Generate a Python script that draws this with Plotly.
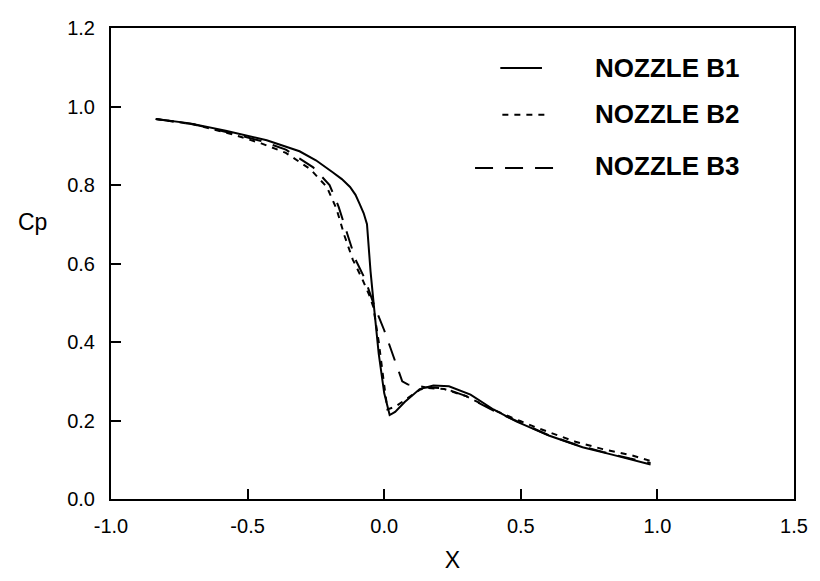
import plotly.graph_objects as go

# Pressure coefficient along the nozzle axis for three nozzle shapes
b1_x = [-0.836, -0.71, -0.58, -0.43, -0.31, -0.25, -0.19, -0.155, -0.125, -0.105, -0.09, -0.075, -0.063,
        -0.05, -0.037, -0.02, 0.0, 0.02, 0.04, 0.075, 0.13, 0.18, 0.237, 0.316, 0.40, 0.485, 0.605,
        0.726, 0.834, 0.93, 0.975]
b1_cp = [0.968, 0.957, 0.938, 0.914, 0.886, 0.863, 0.833, 0.815, 0.795, 0.775, 0.752, 0.728, 0.700,
         0.580, 0.487, 0.370, 0.270, 0.214, 0.222, 0.247, 0.280, 0.289, 0.287, 0.266, 0.228, 0.197, 0.161,
         0.132, 0.113, 0.097, 0.088]

b2_x = [-0.836, -0.70, -0.55, -0.45, -0.36, -0.27, -0.21, -0.175, -0.145, -0.115, -0.08, -0.055, -0.04,
        -0.02, 0.0, 0.012, 0.04, 0.08, 0.13, 0.15, 0.22, 0.30, 0.40, 0.50, 0.557, 0.70, 0.80, 0.907, 0.975]
b2_cp = [0.968, 0.955, 0.928, 0.906, 0.882, 0.840, 0.795, 0.740, 0.670, 0.610, 0.560, 0.520, 0.490,
         0.400, 0.290, 0.228, 0.235, 0.255, 0.278, 0.283, 0.280, 0.262, 0.227, 0.198, 0.182, 0.146, 0.127, 0.111, 0.097]

b3_x = [-0.836, -0.70, -0.55, -0.45, -0.36, -0.26, -0.20, -0.167, -0.135, -0.105, -0.07, -0.05, -0.035,
        0.0, 0.03, 0.066, 0.086, 0.15, 0.22, 0.30, 0.40, 0.50, 0.60, 0.70, 0.80, 0.90, 0.975]
b3_cp = [0.968, 0.955, 0.930, 0.912, 0.890, 0.845, 0.800, 0.745, 0.675, 0.610, 0.560, 0.520, 0.490,
         0.430, 0.370, 0.300, 0.292, 0.285, 0.282, 0.262, 0.225, 0.193, 0.163, 0.139, 0.120, 0.103, 0.092]

series_names = ["NOZZLE B1", "NOZZLE B2", "NOZZLE B3"]
series_x = [b1_x, b2_x, b3_x]
series_y = [b1_cp, b2_cp, b3_cp]
series_dash = ["solid", "6px,6px", "18px,12px"]

x_tick_vals = [-1.0, -0.5, 0.0, 0.5, 1.0, 1.5]
x_tick_text = ["-1.0", "-0.5", "0.0", "0.5", "1.0", "1.5"]
y_tick_vals = [0.0, 0.2, 0.4, 0.6, 0.8, 1.0, 1.2]
y_tick_text = ["0.0", "0.2", "0.4", "0.6", "0.8", "1.0", "1.2"]

FONT = "Liberation Sans, Arial, Helvetica, sans-serif"

fig = go.Figure()
for name, xs, ys, dash in zip(series_names, series_x, series_y, series_dash):
    fig.add_trace(go.Scatter(x=xs, y=ys, mode="lines", name=name,
                             line=dict(color="black", width=2, dash=dash),
                             showlegend=False))

# Hand-placed key: sample line on the left, bold label on the right
key_lines = [(0.570, 0.631, 0.915), (0.573, 0.635, 0.816), (0.533, 0.650, 0.703)]
key_text_y = [0.915, 0.817, 0.707]
for (x0, x1, yk), ty, name, dash in zip(key_lines, key_text_y, series_names, series_dash):
    fig.add_shape(type="line", xref="paper", yref="paper", x0=x0, x1=x1, y0=yk, y1=yk,
                  line=dict(color="black", width=2, dash=dash))
    fig.add_annotation(xref="paper", yref="paper", x=0.705, y=ty, text="<b>%s</b>" % name,
                       showarrow=False, xanchor="left", yanchor="middle",
                       font=dict(family=FONT, size=26, color="black"))

# Horizontal "Cp" label to the left of the axis
fig.add_annotation(xref="paper", yref="paper", x=-0.115, y=0.588, text="Cp", showarrow=False,
                   xanchor="center", yanchor="middle", font=dict(family=FONT, size=23, color="black"))

axis_common = dict(showgrid=False, zeroline=False, showline=True, linecolor="black", linewidth=2,
                   mirror=True, ticks="inside", ticklen=10, tickwidth=2, tickcolor="black",
                   tickfont=dict(family=FONT, size=20, color="black"))

fig.update_xaxes(range=[-1.0, 1.5], tickvals=x_tick_vals, ticktext=x_tick_text,
                 ticklabelstandoff=8,
                 title=dict(text="X", font=dict(family=FONT, size=23, color="black"), standoff=16),
                 **axis_common)
fig.update_yaxes(range=[0.0, 1.2], tickvals=y_tick_vals, ticktext=y_tick_text,
                 ticklabelstandoff=10, **axis_common)

fig.update_layout(width=820, height=581, autosize=False,
                  margin=dict(l=111, r=17, t=28, b=71),
                  paper_bgcolor="white", plot_bgcolor="white",
                  font=dict(family=FONT, color="black"))

fig.write_html("out.html")
